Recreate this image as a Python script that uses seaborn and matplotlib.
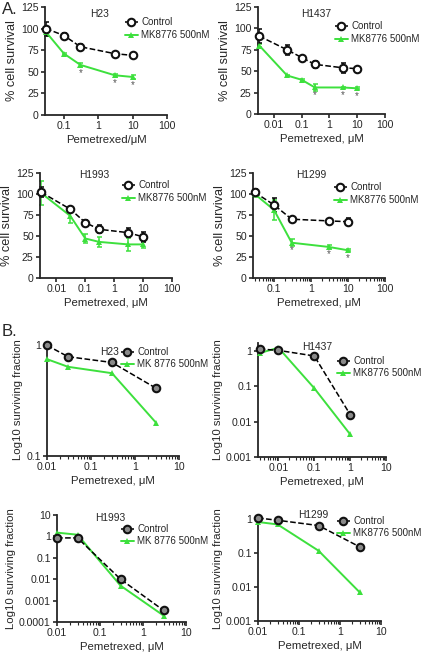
import numpy as np
import pandas as pd
import matplotlib
matplotlib.use("Agg")
import matplotlib.pyplot as plt
from matplotlib.ticker import FixedLocator, LogLocator, NullFormatter, FuncFormatter
import seaborn as sns

# ---------------- data ----------------
# Panel A: % cell survival
h23_a_x = [0.03, 0.1, 0.3, 3, 10]
h23_a_ctrl = [100, 92, 79, 71, 69]
h23_a_ctrl_err = [8, 3, 3, 2, 2]
h23_a_mk = [96, 71, 58, 46, 44]
h23_a_mk_err = [4, 1, 2, 2, 2]
h23_a_star = [0.3, 3, 10]

h1437_a_x = [0.003, 0.03, 0.1, 0.3, 3, 10]
h1437_a_ctrl = [91, 75, 66, 58, 54, 53]
h1437_a_ctrl_err = [8, 6, 2, 4, 6, 2]
h1437_a_mk = [80, 45, 40, 31, 31, 30]
h1437_a_mk_err = [2, 1, 1, 4, 1, 1]
h1437_a_star = [0.3, 3, 10]

h1993_a_x = [0.003, 0.03, 0.1, 0.3, 3, 10]
h1993_a_ctrl = [102, 82, 66, 58, 54, 49]
h1993_a_ctrl_err = [6, 3, 3, 5, 5, 6]
h1993_a_mk = [101, 74, 47, 43, 40, 40]
h1993_a_mk_err = [14, 8, 5, 6, 8, 4]
h1993_a_star = []

h1299_a_x = [0.03, 0.1, 0.3, 3, 10]
h1299_a_ctrl = [102, 87, 70, 68, 67]
h1299_a_ctrl_err = [4, 8, 2, 2, 4]
h1299_a_mk = [100, 81, 42, 37, 33]
h1299_a_mk_err = [3, 12, 4, 2, 1]
h1299_a_star = [0.3, 3, 10]

a_yticks = [0, 25, 50, 75, 100, 125]

# Panel B: Log10 surviving fraction
h23_b_x = [0.01, 0.03, 0.3, 3]
h23_b_ctrl = [1.0, 0.79, 0.70, 0.41]
h23_b_mk = [0.75, 0.64, 0.56, 0.20]

h1437_b_x = [0.003, 0.01, 0.1, 1]
h1437_b_ctrl = [1.15, 1.05, 0.73, 0.016]
h1437_b_mk = [0.88, 1.25, 0.089, 0.0044]

h1993_b_x = [0.01, 0.03, 0.3, 3]
h1993_b_ctrl = [0.85, 0.85, 0.01, 0.00035]
h1993_b_mk = [1.5, 1.2, 0.005, 0.0002]

h1299_b_x = [0.01, 0.03, 0.3, 3]
h1299_b_ctrl = [1.05, 0.9, 0.63, 0.15]
h1299_b_mk = [0.8, 0.68, 0.115, 0.007]

# ---------------- style ----------------
sns.set_style("ticks")
plt.rcParams["font.family"] = ["Liberation Sans", "DejaVu Sans"]
plt.rcParams["axes.linewidth"] = 1.3

W, H = 426, 656
fig = plt.figure(figsize=(W / 100, H / 100), dpi=100)

GREEN = "#3de03d"
TICK_FS = 7.6
LEG_FS = 7.0


def fx(px):
    return px / W


def fy(py):
    return 1 - py / H


def make_ax(l, r, t, b):
    return fig.add_axes([fx(l), fy(b), (r - l) / W, (b - t) / H])


def fmt(v, pos):
    return "%g" % v


def style_ax(ax, xlim, xticks, ylim, yticks, ylog):
    ax.set_xscale("log")
    if ylog:
        ax.set_yscale("log")
    ax.set_xlim(*xlim)
    ax.set_ylim(*ylim)
    ax.xaxis.set_major_locator(FixedLocator(xticks))
    ax.xaxis.set_major_formatter(FuncFormatter(fmt))
    ax.xaxis.set_minor_locator(LogLocator(base=10, subs=np.arange(2, 10)))
    ax.xaxis.set_minor_formatter(NullFormatter())
    ax.yaxis.set_major_locator(FixedLocator(yticks))
    ax.yaxis.set_major_formatter(FuncFormatter(fmt))
    if ylog:
        ax.yaxis.set_minor_locator(FixedLocator([]))
    sns.despine(ax=ax)
    ax.tick_params(axis="both", which="major", labelsize=TICK_FS, length=3, width=1.2, pad=1.5)
    ax.tick_params(axis="x", which="minor", length=1.8, width=0.8)


def draw_series(ax, x, ctrl, mk, ctrl_err=None, mk_err=None, filled=False, mk_label="MK8776 500nM"):
    df = pd.DataFrame({"x": x, "ctrl": ctrl, "mk": mk})
    sns.lineplot(data=df, x="x", y="mk", ax=ax, color=GREEN, lw=1.4, marker="^",
                 markersize=4.8, markeredgewidth=0, markerfacecolor=GREEN, label=mk_label,
                 clip_on=False, zorder=3)
    sns.lineplot(data=df, x="x", y="ctrl", ax=ax, color="black", lw=1.1, linestyle="--",
                 marker="o", markersize=5.4, markeredgewidth=1.5, markeredgecolor="#111111",
                 markerfacecolor=("#8a8a8a" if filled else "white"), label="Control",
                 clip_on=False, zorder=4)
    if mk_err is not None:
        ax.errorbar(x, mk, yerr=mk_err, fmt="none", ecolor=GREEN, elinewidth=1.1,
                    capsize=1.8, capthick=1.1, zorder=2, clip_on=False)
    if ctrl_err is not None:
        ax.errorbar(x, ctrl, yerr=ctrl_err, fmt="none", ecolor="black", elinewidth=1.1,
                    capsize=1.8, capthick=1.1, zorder=2, clip_on=False)
    ax.set_xlabel("")
    ax.set_ylabel("")


def place_legend(ax, px, py, rowsp):
    handles, labels = ax.get_legend_handles_labels()
    order = [labels.index("Control")] + [i for i, l in enumerate(labels) if l != "Control"]
    handles = [handles[i] for i in order]
    labels = [labels[i] for i in order]
    ax.legend(handles, labels, loc="upper left", bbox_to_anchor=(fx(px), fy(py)),
              bbox_transform=fig.transFigure, frameon=False, fontsize=LEG_FS,
              handlelength=1.3, handletextpad=0.35, labelspacing=rowsp,
              borderaxespad=0, borderpad=0)


def stars(ax, xs, x, mk, off):
    for xv in xs:
        yv = mk[x.index(xv)]
        ax.text(xv, yv - off, "*", ha="center", va="center", fontsize=7,
                color="#555555")


# ---------------- Panel A ----------------
panelsA = [
    ("H23", (45, 167, 7, 115), h23_a_x, h23_a_ctrl, h23_a_ctrl_err, h23_a_mk, h23_a_mk_err,
     h23_a_star, (0.028, 100), [0.1, 1, 10, 100], "Pemetrexed/\u03bcM", (100, 14), (125, 17)),
    ("H1437", (258, 385, 7, 114), h1437_a_x, h1437_a_ctrl, h1437_a_ctrl_err, h1437_a_mk,
     h1437_a_mk_err, h1437_a_star, (0.0027, 100), [0.01, 0.1, 1, 10, 100],
     "Pemetrexed, \u03bcM", (316, 14), (335, 21)),
    ("H1993", (40, 172, 173, 278), h1993_a_x, h1993_a_ctrl, h1993_a_ctrl_err, h1993_a_mk,
     h1993_a_mk_err, h1993_a_star, (0.0027, 100), [0.01, 0.1, 1, 10, 100],
     "Pemetrexed, \u03bcM", (94, 175), (122, 180)),
    ("H1299", (253, 385, 173, 278), h1299_a_x, h1299_a_ctrl, h1299_a_ctrl_err, h1299_a_mk,
     h1299_a_mk_err, h1299_a_star, (0.027, 100), [0.1, 1, 10, 100],
     "Pemetrexed, \u03bcM", (311, 175), (334, 182)),
]

for (name, box, x, ctrl, cerr, mk, merr, st, xlim, xticks, xlabel, tpos, lpos) in panelsA:
    ax = make_ax(*box)
    ax.set_xscale("log")
    draw_series(ax, x, ctrl, mk, cerr, merr, filled=False)
    style_ax(ax, xlim, xticks, (0, 125), a_yticks, False)
    stars(ax, st, x, mk, 9)
    ax.set_xlabel(xlabel, fontsize=8.2, labelpad=3)
    ax.set_ylabel("% cell survival", fontsize=9.2, labelpad=2)
    fig.text(fx(tpos[0]), fy(tpos[1]), name, fontsize=7.4, ha="center", va="center")
    place_legend(ax, lpos[0], lpos[1], 0.3)

# ---------------- Panel B ----------------
panelsB = [
    ("H23", (47, 179, 343, 456), h23_b_x, h23_b_ctrl, h23_b_mk, (0.01, 10), [0.01, 0.1, 1, 10],
     (0.1, 1.05), [0.1, 1], "MK 8776 500nM", (110, 352), (121, 347)),
    ("H1437", (258, 386, 343, 457), h1437_b_x, h1437_b_ctrl, h1437_b_mk, (0.0027, 10),
     [0.01, 0.1, 1, 10], (0.001, 1.7), [0.001, 0.01, 0.1, 1], "MK8776 500nM",
     (317, 347), (337, 356)),
    ("H1993", (57, 186, 515, 622), h1993_b_x, h1993_b_ctrl, h1993_b_mk, (0.01, 10),
     [0.01, 0.1, 1, 10], (0.0001, 10), [0.0001, 0.001, 0.01, 0.1, 1, 10], "MK 8776 500nM",
     (110, 518), (121, 524)),
    ("H1299", (258, 381, 516, 621), h1299_b_x, h1299_b_ctrl, h1299_b_mk, (0.01, 10),
     [0.01, 0.1, 1, 10], (0.001, 1.2), [0.001, 0.01, 0.1, 1], "MK8776 500nM",
     (313, 515), (337, 516)),
]

for (name, box, x, ctrl, mk, xlim, xticks, ylim, yticks, mklab, tpos, lpos) in panelsB:
    ax = make_ax(*box)
    ax.set_xscale("log")
    ax.set_yscale("log")
    draw_series(ax, x, ctrl, mk, filled=True, mk_label=mklab)
    style_ax(ax, xlim, xticks, ylim, yticks, True)
    ax.set_xlabel("Pemetrexed, \u03bcM", fontsize=8.2, labelpad=3)
    ax.set_ylabel("Log10 surviving fraction", fontsize=8.2, labelpad=2)
    fig.text(fx(tpos[0]), fy(tpos[1]), name, fontsize=7.4, ha="center", va="center")
    place_legend(ax, lpos[0], lpos[1], 0.25)

fig.text(fx(2), fy(10), "A.", fontsize=12, ha="left", va="center")
fig.text(fx(2), fy(332), "B.", fontsize=12, ha="left", va="center")

fig.savefig("out.png", dpi=100)
